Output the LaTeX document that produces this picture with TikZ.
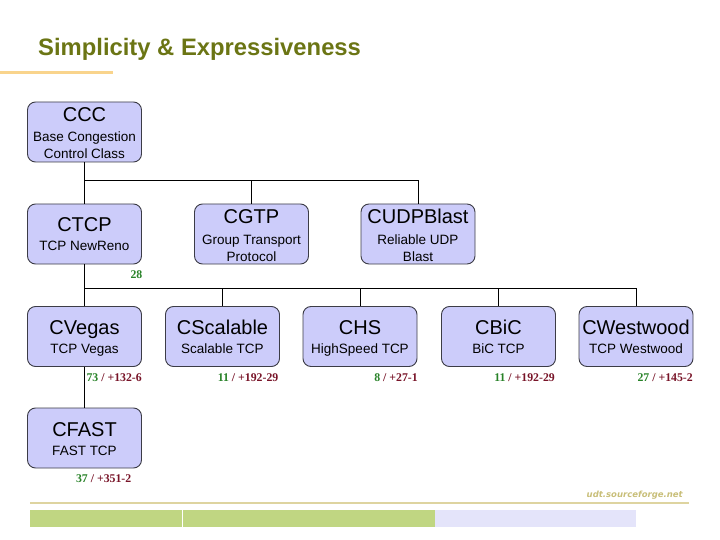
\documentclass[tikz,border=0pt]{standalone}
\usepackage{fontspec}
\setmainfont{Liberation Sans}
\newfontfamily\lblfont{Liberation Serif}
\newfontfamily\footfont{DejaVu Sans}
\definecolor{titleolive}{RGB}{107,117,20}
\definecolor{ulorange}{RGB}{249,212,140}
\definecolor{boxfill}{RGB}{204,204,250}
\definecolor{boxline}{RGB}{60,60,70}
\definecolor{numgreen}{RGB}{40,130,40}
\definecolor{numred}{RGB}{120,20,40}
\definecolor{foottan}{RGB}{200,190,120}
\definecolor{footline}{RGB}{222,212,160}
\definecolor{bargreen}{RGB}{192,214,130}
\definecolor{barblue}{RGB}{228,228,250}
\tikzset{
  cbox/.style={draw=boxline, line width=0.9pt, fill=boxfill, rounded corners=8pt,
    minimum width=114pt, minimum height=60pt, inner sep=0pt},
  ttl/.style={font=\fontsize{20}{24}\selectfont, inner sep=0pt, anchor=base},
  subt/.style={font=\fontsize{13.5}{16}\selectfont, inner sep=0pt, anchor=base},
  lbl/.style={font=\lblfont\bfseries\fontsize{11.8}{14}\selectfont, inner sep=0pt, anchor=base east},
  conn/.style={draw=black, line width=0.9pt}
}
\begin{document}
\begin{tikzpicture}[x=1pt,y=-1pt]
\useasboundingbox (0,0) rectangle (720,540);
% title
\node[font=\bfseries\fontsize{23.8}{28}\selectfont, text=titleolive, inner sep=0pt, anchor=base west] (title) at (38,56) {Simplicity \& Expressiveness};
\fill[ulorange] (0,70.7) rectangle (113,74);

% row 1
\node[cbox] (ccc) at (84.5,132) {};
\node[ttl] (ccct) at (84.5,122) {CCC};
\node[subt] (cccs1) at (84.5,142) {Base Congestion};
\node[subt] (cccs2) at (84.5,159) {Control Class};

% row 2
\node[cbox] (ctcp) at (84.5,234) {};
\node[ttl] (ctcpt) at (84.5,232) {CTCP};
\node[subt] (ctcps) at (84.5,251) {TCP NewReno};

\node[cbox] (cgtp) at (251.5,234) {};
\node[ttl] (cgtpt) at (251.5,224) {CGTP};
\node[subt] (cgtps1) at (251.5,244) {Group Transport};
\node[subt] (cgtps2) at (251.5,261) {Protocol};

\node[cbox] (cudp) at (418,234) {};
\node[ttl] (cudpt) at (418,224) {CUDPBlast};
\node[subt] (cudps1) at (418,244) {Reliable UDP};
\node[subt] (cudps2) at (418,261) {Blast};

\node[lbl] (l28) at (142.5,278) {\textcolor{numgreen}{28}};

% row 3
\node[cbox] (cveg) at (84.5,336.5) {};
\node[ttl] (cvegt) at (84.5,334.5) {CVegas};
\node[subt] (cvegs) at (84.5,353) {TCP Vegas};

\node[cbox] (cscal) at (222.5,336.5) {};
\node[ttl] (cscalt) at (222.5,334.5) {CScalable};
\node[subt] (cscals) at (222.5,353) {Scalable TCP};

\node[cbox] (chs) at (360,336.5) {};
\node[ttl] (chst) at (360,334.5) {CHS};
\node[subt] (chss) at (360,353) {HighSpeed TCP};

\node[cbox] (cbic) at (498.5,336.5) {};
\node[ttl] (cbict) at (498.5,334.5) {CBiC};
\node[subt] (cbics) at (498.5,353) {BiC TCP};

\node[cbox] (cwest) at (636,336.5) {};
\node[ttl] (cwestt) at (636,334.5) {CWestwood};
\node[subt] (cwests) at (636,353) {TCP Westwood};

\node[lbl] (lveg) at (142,381) {\textcolor{numgreen}{73} \textcolor{numred}{/ +132-6}};
\node[lbl] (lscal) at (278.5,381) {\textcolor{numgreen}{11} \textcolor{numred}{/ +192-29}};
\node[lbl] (lhs) at (418,381) {\textcolor{numgreen}{8} \textcolor{numred}{/ +27-1}};
\node[lbl] (lbic) at (555,381) {\textcolor{numgreen}{11} \textcolor{numred}{/ +192-29}};
\node[lbl] (lwest) at (693,381) {\textcolor{numgreen}{27} \textcolor{numred}{/ +145-2}};

% row 4
\node[cbox] (cfast) at (84.5,438) {};
\node[ttl] (cfastt) at (84.5,436) {CFAST};
\node[subt] (cfasts) at (84.5,455) {FAST TCP};
\node[lbl] (lfast) at (131.5,482.5) {\textcolor{numgreen}{37} \textcolor{numred}{/ +351-2}};

% connectors
\coordinate (bus1) at (0,180);
\coordinate (bus2) at (0,288);
\draw[conn] (ccc.south) -- (ccc.south |- bus1) -| (cudp.north);
\draw[conn] (ccc.south |- bus1) -- (ctcp.north);
\draw[conn] (cgtp.north) -- (cgtp.north |- bus1);
\draw[conn] (ctcp.south) -- (cveg.north);
\draw[conn] (ctcp.south |- bus2) -| (cwest.north);
\draw[conn] (cscal.north) -- (cscal.north |- bus2);
\draw[conn] (chs.north) -- (chs.north |- bus2);
\draw[conn] (cbic.north) -- (cbic.north |- bus2);
\draw[conn] (cveg.south) -- (cfast.north);

% footer
\node[font=\footfont\bfseries\itshape\fontsize{8.5}{10}\selectfont, text=foottan, inner sep=0pt, anchor=base east] (foot) at (683,497.5) {udt.sourceforge.net};
\draw[footline, line width=2pt] (30,503) -- (689,503);
\fill[bargreen] (30,510) rectangle (435,527);
\fill[barblue] (435,510) rectangle (636,527);
\draw[white, line width=0.8pt] (182,510) -- (182,527);
\end{tikzpicture}
\end{document}
